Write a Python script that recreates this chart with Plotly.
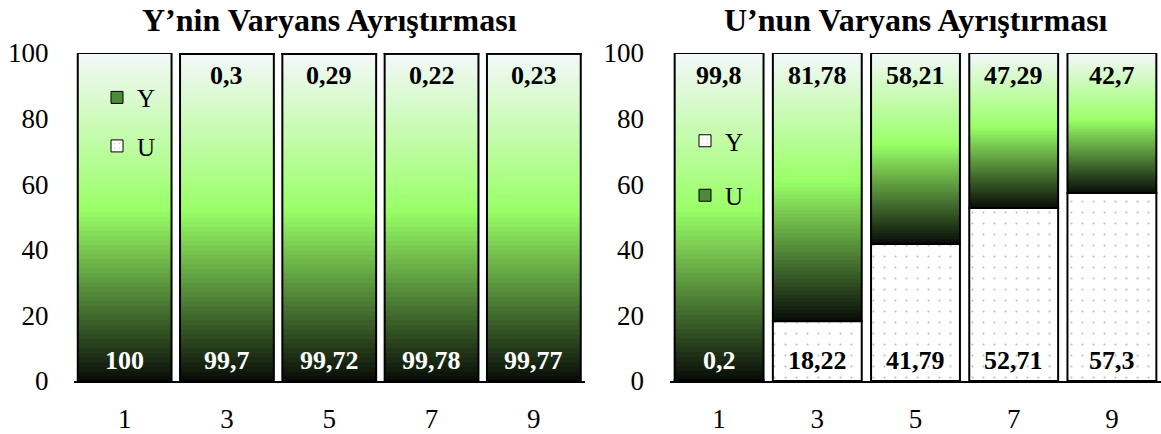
import plotly.graph_objects as go

# Forecast horizons
horizons = ["1", "3", "5", "7", "9"]

# Y'nin varyans ayrıştırması (%)
y_from_y = [100, 99.7, 99.72, 99.78, 99.77]
y_from_u = [0, 0.3, 0.29, 0.22, 0.23]

# U'nun varyans ayrıştırması (%)
u_from_y = [0.2, 18.22, 41.79, 52.71, 57.3]
u_from_u = [99.8, 81.78, 58.21, 47.29, 42.7]

FONT = "Liberation Serif"
N_SLICES = 70
GRAD_STOPS = [(0.0, (8, 12, 8)), (0.52, (153, 255, 102)), (1.0, (244, 248, 250))]
pos = list(range(len(horizons)))


def grad(t):
    for (t0, c0), (t1, c1) in zip(GRAD_STOPS[:-1], GRAD_STOPS[1:]):
        if t <= t1:
            f = (t - t0) / (t1 - t0)
            return "rgb(%d,%d,%d)" % tuple(round(a + (b - a) * f) for a, b in zip(c0, c1))
    return "rgb(%d,%d,%d)" % GRAD_STOPS[-1][1]


def fmt(v):
    return f"{v:g}".replace(".", ",")


fig = go.Figure()


def add_panel(xa, ya, bottom, top, green_bottom, width, legend, names):
    bottom_base = [0] * len(bottom)
    top_base = list(bottom)
    if green_bottom:
        g_base, g_h, d_base, d_h = bottom_base, bottom, top_base, top
    else:
        g_base, g_h, d_base, d_h = top_base, top, bottom_base, bottom

    # green gradient segment: stacked slices, each covering up to the segment top
    for i in range(N_SLICES):
        f = i / N_SLICES
        fig.add_trace(go.Bar(
            x=pos, y=[h * (1 - f) for h in g_h],
            base=[b + h * f for b, h in zip(g_base, g_h)],
            width=width, marker=dict(color=grad((i + 0.5) / N_SLICES), line=dict(width=0)),
            xaxis=xa, yaxis=ya, showlegend=False, hoverinfo="skip"))
    # outline of the green segment
    fig.add_trace(go.Bar(
        x=pos, y=g_h, base=g_base, width=width,
        marker=dict(color="rgba(0,0,0,0)", line=dict(color="black", width=2)),
        xaxis=xa, yaxis=ya, showlegend=False, hoverinfo="skip"))
    # dotted white segment
    fig.add_trace(go.Bar(
        x=pos, y=d_h, base=d_base, width=width,
        marker=dict(color="white",
                    pattern=dict(shape=".", fgcolor="#7a7a7a", bgcolor="white",
                                 size=11, solidity=0.03),
                    line=dict(color="black", width=2)),
        xaxis=xa, yaxis=ya, showlegend=False, hoverinfo="skip"))

    # legend entries
    green_entry = go.Bar(x=[None], y=[None], xaxis=xa, yaxis=ya,
                         marker=dict(color="#4f8a36", line=dict(color="black", width=1)))
    dot_entry = go.Bar(x=[None], y=[None], xaxis=xa, yaxis=ya,
                       marker=dict(color="white",
                                   pattern=dict(shape=".", fgcolor="#8a8a8a", bgcolor="white",
                                                size=6, solidity=0.05),
                                   line=dict(color="black", width=1)))
    entries = [green_entry, dot_entry] if green_bottom else [dot_entry, green_entry]
    for tr, nm in zip(entries, names):
        tr.update(name=nm, legend=legend, legendgroup=legend + nm, showlegend=True)
        fig.add_trace(tr)

    # value labels (zero shares carry no label)
    for xi, b, t, gb, gh in zip(pos, bottom, top, g_base, g_h):
        for val, ypos in ((b, 6.3), (t, 93.2)):
            if val == 0:
                continue
            rel = (ypos - gb) / gh if gh else 2
            color = "white" if 0 <= rel < 0.45 else "black"
            fig.add_annotation(x=xi, y=ypos, xref=xa, yref=ya, text="<b>" + fmt(val) + "</b>",
                               showarrow=False, xanchor="center", yanchor="middle",
                               font=dict(family=FONT, size=26, color=color))


add_panel("x", "y", y_from_y, y_from_u, True, 0.917, "legend", ["Y", "U"])
add_panel("x2", "y2", u_from_y, u_from_u, False, 0.905, "legend2", ["Y", "U"])

axis_common = dict(tickfont=dict(family=FONT, size=27, color="black"), showgrid=False, zeroline=False)
x_common = dict(range=[-0.5, len(horizons) - 0.5], tickvals=pos, ticktext=horizons,
                showline=True, linecolor="black", linewidth=2, ticks="",
                ticklabelstandoff=13, **axis_common)
y_common = dict(range=[0, 100], tickvals=[0, 20, 40, 60, 80, 100], showline=False, ticks="",
                **axis_common)
fig.update_layout(
    width=1161, height=434,
    margin=dict(l=0, r=0, t=53, b=48),
    paper_bgcolor="white", plot_bgcolor="white",
    barmode="overlay",
    font=dict(family=FONT, color="black"),
    xaxis=dict(domain=[73.5 / 1161, 585 / 1161], **x_common),
    xaxis2=dict(domain=[670 / 1161, 1.0], **x_common),
    yaxis=dict(anchor="x", ticklabelstandoff=24, **y_common),
    yaxis2=dict(anchor="x2", ticklabelstandoff=25, **y_common),
    legend=dict(x=97 / 1161, y=(386 - 75) / 333, xanchor="left", yanchor="top",
                bgcolor="rgba(0,0,0,0)", font=dict(family=FONT, size=25, color="black"),
                tracegroupgap=13, traceorder="grouped"),
    legend2=dict(x=685 / 1161, y=(386 - 119) / 333, xanchor="left", yanchor="top",
                 bgcolor="rgba(0,0,0,0)", font=dict(family=FONT, size=25, color="black"),
                 tracegroupgap=19, traceorder="grouped"),
)

fig.add_annotation(x=(73.5 + 585) / 2 / 1161, y=(386 - 20) / 333, xref="paper", yref="paper",
                   xanchor="center", yanchor="middle",
                   text="<b>Y’nin Varyans Ayrıştırması</b>", showarrow=False,
                   font=dict(family=FONT, size=32, color="black"))
fig.add_annotation(x=(670 + 1161) / 2 / 1161, y=(386 - 20) / 333, xref="paper", yref="paper",
                   xanchor="center", yanchor="middle",
                   text="<b>U’nun Varyans Ayrıştırması</b>", showarrow=False,
                   font=dict(family=FONT, size=32, color="black"))

fig.write_html("out.html")
